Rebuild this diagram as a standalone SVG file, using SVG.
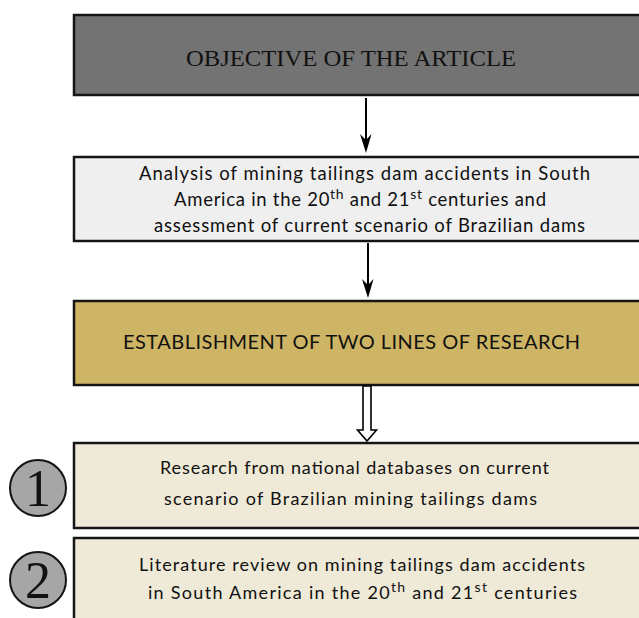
<svg xmlns="http://www.w3.org/2000/svg" width="639" height="618" viewBox="0 0 639 618">
<style>
.box{stroke:#151515;stroke-width:2.5}
.cal{font-family:Lato,"Open Sans","Liberation Sans",sans-serif;fill:#111}
.tnr{font-family:"Liberation Serif","Times New Roman",serif;fill:#111}
.sup{font-size:14px}
.circ{fill:#a6a6a6;stroke:#151515;stroke-width:2}
.conn{stroke:#000;stroke-width:2;fill:none}
</style>
<rect width="639" height="618" fill="#fff"/>
<g id="objective">
<rect class="box" x="74" y="15" width="580" height="80" fill="#737373"/>
<text class="tnr" x="186" y="66" font-size="23" textLength="330" lengthAdjust="spacingAndGlyphs">OBJECTIVE OF THE ARTICLE</text>
</g>
<g id="analysis">
<rect class="box" x="74" y="157" width="580" height="84" fill="#efefef"/>
<text class="cal" x="139" y="180" font-size="18.5" textLength="451" lengthAdjust="spacing">Analysis of mining tailings dam accidents in South</text>
<text class="cal" x="174" y="206" font-size="18.5" textLength="372" lengthAdjust="spacing">America in the 20<tspan class="sup" dy="-7">th</tspan><tspan dy="7"> and 21</tspan><tspan class="sup" dy="-7">st</tspan><tspan dy="7"> centuries and</tspan></text>
<text class="cal" x="154" y="232" font-size="18.5" textLength="431" lengthAdjust="spacing">assessment of current scenario of Brazilian dams</text>
</g>
<g id="establishment">
<rect class="box" x="74" y="301" width="580" height="84" fill="#cdb565"/>
<text class="cal" x="123" y="349" font-size="20" textLength="457" lengthAdjust="spacing">ESTABLISHMENT OF TWO LINES OF RESEARCH</text>
</g>
<g id="line1">
<circle class="circ" cx="38" cy="488" r="28"/>
<text class="tnr" x="38" y="506" font-size="52" text-anchor="middle">1</text>
<rect class="box" x="74" y="443" width="580" height="85" fill="#efe9d7"/>
<text class="cal" x="160" y="474" font-size="18" textLength="389" lengthAdjust="spacing">Research from national databases on current</text>
<text class="cal" x="164" y="505" font-size="18" textLength="373" lengthAdjust="spacing">scenario of Brazilian mining tailings dams</text>
</g>
<g id="line2">
<circle class="circ" cx="38" cy="580" r="28"/>
<text class="tnr" x="38" y="598" font-size="52" text-anchor="middle">2</text>
<rect class="box" x="74" y="538" width="580" height="90" fill="#efe9d7"/>
<text class="cal" x="139" y="571" font-size="18" textLength="446" lengthAdjust="spacing">Literature review on mining tailings dam accidents</text>
<text class="cal" x="148" y="599" font-size="18" textLength="429" lengthAdjust="spacing">in South America in the 20<tspan class="sup" dy="-7">th</tspan><tspan dy="7"> and 21</tspan><tspan class="sup" dy="-7">st</tspan><tspan dy="7"> centuries</tspan></text>
</g>
<g id="connectors">
<line class="conn" x1="366" y1="98" x2="366" y2="140"/>
<polygon points="360,134 366,153 371.5,134 366,140" fill="#000"/>
<line class="conn" x1="368" y1="243" x2="368" y2="285"/>
<polygon points="362,279 368,298 373.5,279 368,285" fill="#000"/>
<polygon points="363,386 363,430 357.5,430 367,441 376.5,430 371,430 371,386" fill="#fff" stroke="#000" stroke-width="1.6"/>
</g>
</svg>
